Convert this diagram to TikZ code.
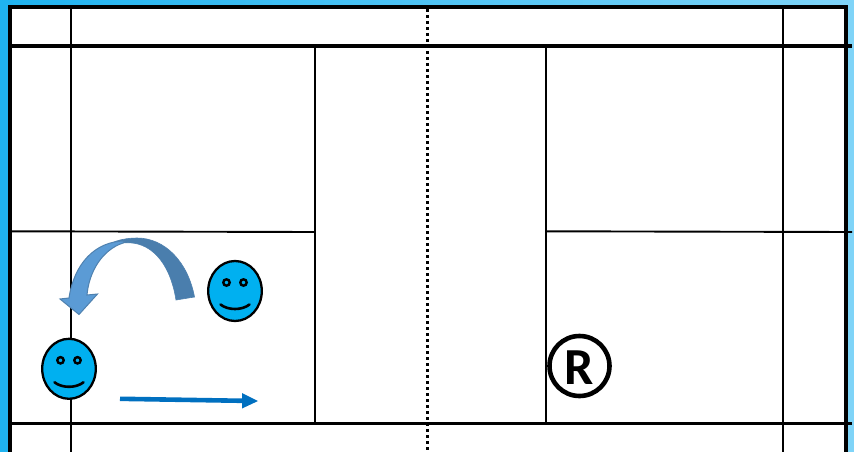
\documentclass[tikz,border=0pt]{standalone}
\usepackage{fontspec}
\newfontfamily\rfont{Carlito}
\definecolor{faceblue}{HTML}{00B0F0}
\definecolor{arrowblue}{HTML}{0070C0}
\definecolor{curvedark}{HTML}{4A7EAD}
\definecolor{curvelight}{HTML}{5B9BD5}
\definecolor{curveedge}{HTML}{4F81AF}
\definecolor{bgleft}{HTML}{1FB3F0}
\definecolor{bgright}{HTML}{7FD4F8}
\tikzset{
  thinline/.style={black,line width=1.9pt},
  thickline/.style={black,line width=3.5pt},
  frameline/.style={black,line width=4.2pt},
  netline/.style={black,line width=3pt,dash pattern=on 3pt off 3pt},
  facestyle/.style={draw=black,fill=faceblue,line width=2.3pt},
  featurestyle/.style={black,line width=2.4pt,line cap=round}
}
\newcommand{\smiley}[2]{%
  \begin{scope}[shift={(#1,#2)}]
    \draw[facestyle] (0,0) ellipse [x radius=26.8,y radius=30];
    \draw[featurestyle] (-8.5,-8.5) circle [radius=3.2];
    \draw[featurestyle] (8.5,-8.5) circle [radius=3.2];
    \draw[featurestyle,line width=2.6pt] (-14.5,13.5) .. controls (-7,19.5) and (7,19.5) .. (14.5,13.5);
  \end{scope}}
\begin{document}
\begin{tikzpicture}[x=1pt,y=-1pt]
\useasboundingbox (0,0) rectangle (854,452);
\begin{scope}
\clip (0,0) rectangle (854,452);
\shade[left color=bgleft,right color=bgright] (0,0) rectangle (854,452);
\fill[white] (10,7) rectangle (846,452);
% court lines
\draw[thinline] (71,8) -- (71,452);
\draw[thinline] (783,8) -- (783,452);
\draw[thinline] (314.6,46) -- (314.6,423);
\draw[thinline] (546,46) -- (546,423);
\draw[thinline] (10,231.3) -- (315,232);
\draw[thinline] (546,231.3) -- (852,232);
\draw[thickline] (10,46) -- (852,46);
\draw[thickline] (10,423.4) -- (852,423.4);
\draw[netline] (427.8,9) -- (427.8,452);
\draw[frameline] (10,452) -- (10,7) -- (846,7) -- (846,452);
% curved arrow
\fill[curvedark,draw=curveedge,line width=.6pt] (194.5,297) .. controls (188,262) and (165,238) .. (137,238)
  .. controls (130,238) and (122,239) .. (115,241.5) -- (123,243)
  .. controls (150,240) and (170,262) .. (176,300) -- cycle;
\fill[curvelight,draw=curveedge,line width=1pt] (69,298) .. controls (74,264) and (95,241) .. (125,241)
  -- (123,243) .. controls (102,250) and (89,272) .. (87,295)
  -- (97.5,294) -- (79,314.5) -- (60,299) -- cycle;
% straight arrow
\coordinate (a1) at (120,398.8);
\coordinate (a2) at (243,400.8);
\coordinate (a3) at (258,401);
\draw[arrowblue,line width=4.6pt] (a1) -- (a2);
\fill[arrowblue] (242,393) -- (a3) -- (242,408.5) -- cycle;
% players
\smiley{235}{291}
\smiley{69}{368.8}
\node[circle,draw=black,fill=white,line width=4.6pt,minimum size=60pt,inner sep=0pt] (r) at (579.5,366) {};
\node[font=\rfont\bfseries\fontsize{52}{52}\selectfont,inner sep=0pt,text=black] (rt) at (579.5,368) {R};
\end{scope}
\end{tikzpicture}
\end{document}
